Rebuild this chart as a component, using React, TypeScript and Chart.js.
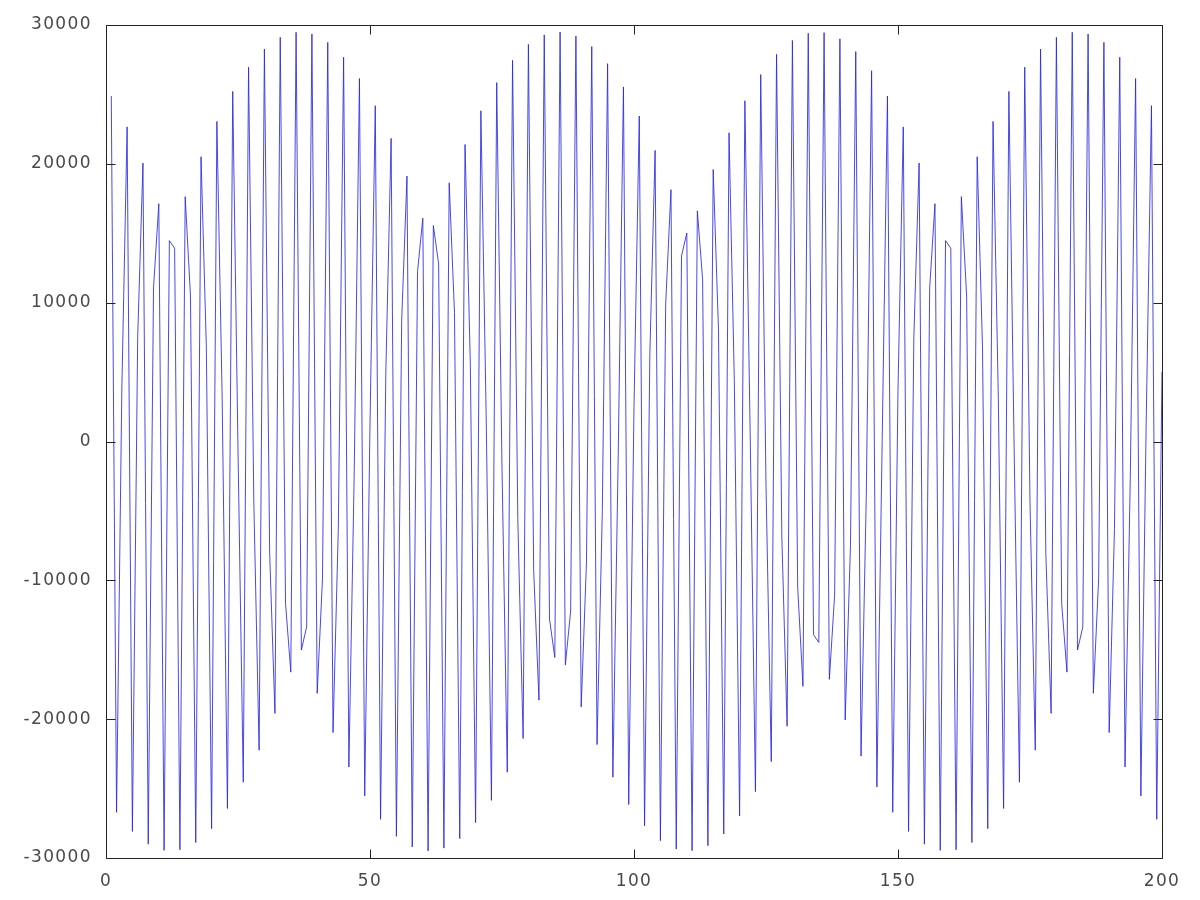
import React, { useEffect, useRef } from "react";
import { Chart, registerables } from "chart.js";

Chart.register(...registerables);

// Axis ranges and ticks
const xMin = 0;
const xMax = 200;
const xStep = 50;
const yMin = -30000;
const yMax = 30000;
const yStep = 10000;

// Index of the first sample on the x axis
const firstSampleIndex = 1;

// Sample values (samples 1..50)
const samples001to050 = [
  24885, -26705, 3771, 22662, -28085, 7480, 20058, -29005, 11066, 17129,
  -29448, 14471, 13919, -29407, 17638, 10480, -28885, 20509, 6869, -27887,
  23056, 3145, -26432, 25219, -630, -24542, 26966, -4395, -22233, 28271,
  -8088, -19588, 29112, -11648, -16612, 29475, -15018, -13360, 29354, -18139,
  -9888, 28751, -20964, -6255, 27676, -23443, -2518, 26146, -25539, 1260,
];

// samples 51..100
const samples051to100 = [
  24187, -27215, 5017, 21831, -28444, 8692, 19117, -29206, 12224, 16088,
  -29488, 15556, 12795, -29287, 18630, 9293, -28604, 21391, 5637, -27453,
  23821, 1889, -25849, 25849, -1889, -23821, 27453, -5637, -21391, 28604,
  -9293, -18630, 29287, -12795, -15556, 29488, -16088, -12224, 29206, -19117,
  -8692, 28444, -21831, -5017, 27215, -24187, -1260, 25539, -26146, 2518,
];

// samples 101..150
const samples101to150 = [
  23443, -27676, 6255, 20964, -28751, 9888, 18139, -29354, 13360, 15018,
  -29475, 16612, 11648, -29112, 19588, 8088, -28271, 22233, 4395, -26966,
  24542, 630, -25219, 26432, -3145, -23056, 27887, -6869, -20509, 28885,
  -10480, -17638, 29407, -13919, -14471, 29448, -17129, -11066, 29005, -20058,
  -7480, 28085, -22662, -3771, 26705, -24885, 0, 24885, -26705, 3771,
];

// samples 151..200
const samples151to200 = [
  22662, -28085, 7480, 20058, -29005, 11066, 17129, -29448, 14471, 13919,
  -29407, 17638, 10480, -28885, 20509, 6869, -27887, 23056, 3145, -26432,
  25219, -630, -24542, 26966, -4395, -22233, 28271, -8088, -19588, 29112,
  -11648, -16612, 29475, -15018, -13360, 29354, -18139, -9888, 28751, -20964,
  -6255, 27676, -23443, -2518, 26146, -25539, 1260, 24187, -27215, 5017,
];

const allSamples = [
  ...samples001to050,
  ...samples051to100,
  ...samples101to150,
  ...samples151to200,
];

const LETTER_SPACING = "1.4px";
const FRAME_COLOR = "#222222";
const TICK_LEN = 9;

const framePlugin = {
  id: "gnuFrame",
  beforeLayout(chart: any) {
    chart.ctx.letterSpacing = LETTER_SPACING;
  },
  beforeDraw(chart: any) {
    chart.ctx.letterSpacing = LETTER_SPACING;
  },
  afterDraw(chart: any) {
    const { ctx, chartArea, scales } = chart;
    const l = Math.round(chartArea.left) + 0.5;
    const r = Math.round(chartArea.right) + 0.5;
    const t = Math.round(chartArea.top) + 0.5;
    const b = Math.round(chartArea.bottom) + 0.5;
    ctx.save();
    ctx.letterSpacing = "0px";
    ctx.strokeStyle = FRAME_COLOR;
    ctx.lineWidth = 1;
    ctx.beginPath();
    ctx.rect(l, t, r - l, b - t);
    // x ticks (bottom and top, inward)
    scales.x.ticks.forEach((tk: any) => {
      const px = Math.round(scales.x.getPixelForValue(tk.value)) + 0.5;
      ctx.moveTo(px, b);
      ctx.lineTo(px, b - TICK_LEN);
      ctx.moveTo(px, t);
      ctx.lineTo(px, t + TICK_LEN);
    });
    // y ticks (left and right, inward)
    scales.y.ticks.forEach((tk: any) => {
      const py = Math.round(scales.y.getPixelForValue(tk.value)) + 0.5;
      ctx.moveTo(l, py);
      ctx.lineTo(l + TICK_LEN, py);
      ctx.moveTo(r, py);
      ctx.lineTo(r - TICK_LEN, py);
    });
    ctx.stroke();
    ctx.restore();
  },
};

export default function App() {
  const canvasRef = useRef<HTMLCanvasElement | null>(null);

  useEffect(() => {
    const canvas = canvasRef.current;
    if (!canvas) return;
    const points = allSamples.map((v, i) => ({ x: firstSampleIndex + i, y: v }));
    const tickFont = { family: "'DejaVu Sans', sans-serif", size: 17 };
    const chart = new Chart(canvas, {
      type: "line",
      data: {
        datasets: [
          {
            data: points,
            borderColor: "rgb(40,40,225)",
            borderWidth: 0.85,
            pointRadius: 0,
            tension: 0,
            fill: false,
          },
        ],
      },
      options: {
        responsive: false,
        animation: false,
        devicePixelRatio: 1,
        layout: { padding: { left: 0, right: 38, top: 25, bottom: 0 } },
        plugins: {
          legend: { display: false },
          tooltip: { enabled: false },
        },
        scales: {
          x: {
            type: "linear",
            min: xMin,
            max: xMax,
            grid: { display: false, drawTicks: false },
            border: { display: false },
            ticks: {
              stepSize: xStep,
              padding: 13,
              color: "#4a4a4a",
              font: tickFont,
              maxRotation: 0,
              callback: (v: any) => String(v),
            },
            afterFit: (scale: any) => {
              scale.height = 42;
            },
          },
          y: {
            type: "linear",
            min: yMin,
            max: yMax,
            grid: { display: false, drawTicks: false },
            border: { display: false },
            ticks: {
              stepSize: yStep,
              padding: 14,
              color: "#4a4a4a",
              font: tickFont,
              callback: (v: any) => String(v),
            },
            afterFit: (scale: any) => {
              scale.width = 106;
            },
          },
        },
      },
      plugins: [framePlugin],
    });
    return () => chart.destroy();
  }, []);

  return (
    <div style={{ position: "fixed", left: 0, top: 0, width: 1200, height: 900, background: "#fff" }}>
      <canvas ref={canvasRef} width={1200} height={900} style={{ display: "block" }} />
    </div>
  );
}
